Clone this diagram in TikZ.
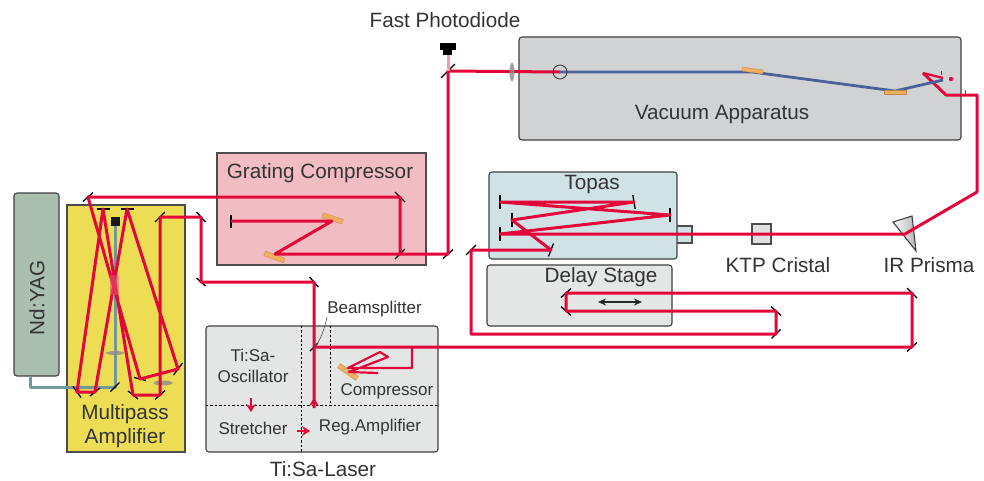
\documentclass[tikz,border=0pt]{standalone}
\usepackage{fontspec}
\setmainfont{Liberation Sans}
\usetikzlibrary{arrows.meta,shapes.geometric}
\definecolor{beamred}{HTML}{E2063A}
\definecolor{pumpgreen}{HTML}{6F9A99}
\definecolor{xuvblue}{HTML}{4C6199}
\definecolor{gratingorange}{HTML}{EFAE60}
\definecolor{labelgray}{HTML}{333333}
\tikzset{
  box/.style={draw=black!75, line width=1.1pt, rounded corners=3pt, inner sep=0pt},
  sharpbox/.style={draw=black!70, line width=1.1pt, inner sep=0pt},
  biglabel/.style={font=\fontsize{20.7}{23.5}\selectfont, text=labelgray, align=center, inner sep=0pt},
  smalllabel/.style={font=\fontsize{17}{21}\selectfont, text=labelgray, align=center, inner sep=0pt},
  beam/.style={draw=beamred, line width=3pt, line join=round},
  thinbeam/.style={draw=beamred, line width=2.2pt, line join=round},
  pump/.style={draw=pumpgreen, line width=3pt, line join=round},
  xuv/.style={draw=xuvblue, line width=2.8pt, line join=round},
  mirror/.style={draw=black, line width=1.3pt},
  grating/.style={fill=gratingorange, draw=gratingorange!80!black, line width=.3pt},
  lens/.style={fill=black!45, draw=none, opacity=.8},
  sep/.style={draw=black, line width=1pt, dash pattern=on 2.4pt off 2pt},
  redarrow/.style={-{Stealth[length=8pt,width=10pt]}, draw=beamred, line width=2.4pt}
}
\begin{document}
\begin{tikzpicture}[x=1pt,y=-1pt]
  \useasboundingbox (0,0) rectangle (984,480);
  % housings
  \node[box, fill={rgb,255:red,170;green,191;blue,176}, minimum width=45pt, minimum height=183pt] (yag) at (36.5,284.5) {};
  \node[sharpbox, fill={rgb,255:red,236;green,221;blue,85}, minimum width=118pt, minimum height=247pt] (multipass) at (126,328.5) {};
  \node[sharpbox, fill={rgb,255:red,241;green,189;blue,194}, minimum width=209pt, minimum height=112pt] (compressorbox) at (321.5,209) {};
  \node[box, fill={rgb,255:red,228;green,230;blue,230}, minimum width=232pt, minimum height=126pt] (laser) at (322,389) {};
  \node[box, fill={rgb,255:red,208;green,210;blue,212}, minimum width=442pt, minimum height=103pt] (vacuum) at (740,88.5) {};
  \node[sharpbox, fill={rgb,255:red,209;green,226;blue,230}, minimum width=16pt, minimum height=17pt] (topasport) at (684,234.5) {};
  \node[box, fill={rgb,255:red,209;green,226;blue,230}, minimum width=188pt, minimum height=87pt] (topas) at (583,215.5) {};
  \node[box, fill={rgb,255:red,229;green,230;blue,230}, minimum width=185pt, minimum height=61pt] (delay) at (579.5,295.5) {};
  \node[sharpbox, fill=black!12, minimum width=19pt, minimum height=20pt] (ktp) at (761.5,234) {};
  \draw[line width=1.1pt, draw=black!75, left color=white, right color=black!30] (893,222) -- (912,216) -- (916,251) -- cycle;

  % separators in the laser
  \draw[sep] (301,326) -- (301,452);
  \draw[sep] (330,326) -- (330,405);
  \draw[sep] (206,405) -- (438,405);

  % pump path
  \coordinate (yagfoot) at (30,376);
  \coordinate (pumpmirror) at (115,387);
  \coordinate (pumpdump) at (115,222);
  \draw[pump] (yagfoot) -- (30,387) -- (pumpmirror) -- (pumpdump);
  \node[fill=black!90, minimum size=9pt, inner sep=0pt] (dump) at (115,221.5) {};
  \node[lens, ellipse, minimum width=18pt, minimum height=4pt, inner sep=0pt] (lensa) at (115,353) {};
  \node[lens, ellipse, minimum width=19pt, minimum height=5pt, inner sep=0pt] (lensb) at (163,383) {};

  % mirrors
  \foreach \name/\x/\y/\dx/\dy in {
    splita/314/347/4/-4, ma/314/282/4.5/5, mb/201/282/4.5/4, mc/201/217/4.5/5, md/160/217/5/-5,
    me/160/395/5/-4.5, mf/133/395/5/4, mg/103/209/6.5/0, mh/77/392/4/5.5, mi/95/392/5/-4,
    mj/127/209/6.5/0, mk/178/369/4.5/-6, ml/140/379/6/1.5, mm/88/197/5/-4.5, mn/400/197/5/5,
    mo/400/254/5/-5, mp/448/254/5/-4.5, mq/448/71/7/-7, ra/231/221/0/6.5,
    sa/912/347/5/-4.5, sb/912/293/5/5, sc/566/293/5/-4.5, sd/566/311/5/4.5, se/776/311/5/4.5,
    sf/776/334/4.5/-4.5, sg/471/250/5/-5, sh/551/250/2.5/-6.5, ta/512/220/0/7, tb/634/202/1.2/7,
    tc/500/202/0/7, td/670/215/0/7, te/500/234/0/7, pumpmirror/115/387/4.5/-4.5
  }{
    \coordinate (\name) at (\x,\y);
    \draw[mirror] ({\x-\dx},{\y-\dy}) -- ({\x+\dx},{\y+\dy});
  }

  % gratings
  \draw[grating, rotate around={-18:(332.5,218.5)}] (322,216) rectangle (343,221);
  \draw[grating, rotate around={-20:(274.5,257)}] (264,254.5) rectangle (285,259.5);
  \draw[grating, rotate around={-35:(348,372)}] (337,369.5) rectangle (359,374.5);

  % beams
  \coordinate (regout) at (314,408);
  \coordinate (gratelow) at (275,254);
  \coordinate (gratehigh) at (332,221);
  \coordinate (focus) at (560,72);
  \coordinate (delayturn) at (471,334);
  \draw[beam] (regout) -- (splita) -- (ma) -- (mb) -- (mc) -- (md) -- (me) -- (mf) -- (mg) -- (mh) -- (mi) -- (mj) -- (mk) -- (ml) -- (mm) -- (mn) -- (mo) -- (gratelow) -- (gratehigh) -- (ra);
  \draw[beam] (mo) -- (mp) -- (mq) -- (focus);
  \draw[beam] (splita) -- (sa) -- (sb) -- (sc) -- (sd) -- (se) -- (sf) -- (delayturn) -- (sg) -- (sh) -- (ta) -- (tb) -- (tc) -- (td) -- (te) -- (905,234) -- (977,192) -- (977,95) -- (946,95) -- (923,73);
  \draw[thinbeam] (923,73) -- (943,78);
  \draw[thinbeam] (412,347) -- (412,368) -- (348,368) -- (380,352) -- (388,357) -- (349,372) -- (378,373);
  \draw[draw=beamred!40, line width=3pt] (448,53) -- (mq);
  \draw[xuv] (focus) -- (752,72) -- (895,91) -- (943,80);
  \draw[grating, rotate around={-8:(752.5,71)}] (742,68.5) rectangle (763,72.5);
  \draw[grating] (884,90.5) rectangle (906,94);
  \fill[beamred] (951,79) circle (2.2pt);
  \draw[line width=.6pt, black!70] (941,71) -- (941,75);
  \draw[line width=.9pt, black!70] (965,90) -- (965,96);
  \fill[beamred!70!white, opacity=.55] (110,275) rectangle (119,295);

  % beam markers
  \draw[redarrow] (314,408) -- (314,398);
  \draw[redarrow] (251,398) -- (251,412);
  \draw[redarrow] (297,431) -- (310,431);
  \draw[<->, >={Stealth[length=8pt,width=7pt]}, line width=1.2pt, draw=black!85] (598,302) -- (642,302);

  % lens, focus and diode
  \node[lens, ellipse, minimum width=5pt, minimum height=19pt, inner sep=0pt] (lensc) at (512,72) {};
  \node[draw=black!75, line width=.9pt, circle, minimum size=14pt, inner sep=0pt] (focusring) at (560,72) {};
  \fill[black] (440,43) rectangle (456,50);
  \fill[black] (443,50) rectangle (452,55);

  % labels
  \node[biglabel] (photodiodelabel) at (445,20) {Fast Photodiode};
  \node[biglabel] (vacuumlabel) at (722,115) {Vacuum Apparatus};
  \node[biglabel] (compressorlabel) at (320,173) {Grating Compressor};
  \node[biglabel] (topaslabel) at (592,185) {Topas};
  \node[biglabel] (delaylabel) at (601,277) {Delay Stage};
  \node[biglabel] (ktplabel) at (778,265) {KTP Cristal};
  \node[biglabel] (prismlabel) at (929,265) {IR Prisma};
  \node[biglabel, rotate=90] (yaglabel) at (37,298) {Nd:YAG};
  \node[biglabel] (multipasslabel) at (125,426) {Multipass\\Amplifier};
  \node[biglabel] (laserlabel) at (323,469) {Ti:Sa-Laser};
  \node[smalllabel] (oscillatorlabel) at (253,366) {Ti:Sa-\\Oscillator};
  \node[smalllabel] (lasercompressorlabel) at (387,391) {Compressor};
  \node[smalllabel] (stretcherlabel) at (253,428) {Stretcher};
  \node[smalllabel] (reglabel) at (370,427) {Reg.Amplifier};
  \node[smalllabel] (splitlabel) at (374.5,309) {Beamsplitter};
  \coordinate (splitfoot) at (311,351);
  \draw[line width=.6pt, black!70] (splitlabel.south west) .. controls (323,335) and (318,345) .. (splitfoot);
\end{tikzpicture}
\end{document}
